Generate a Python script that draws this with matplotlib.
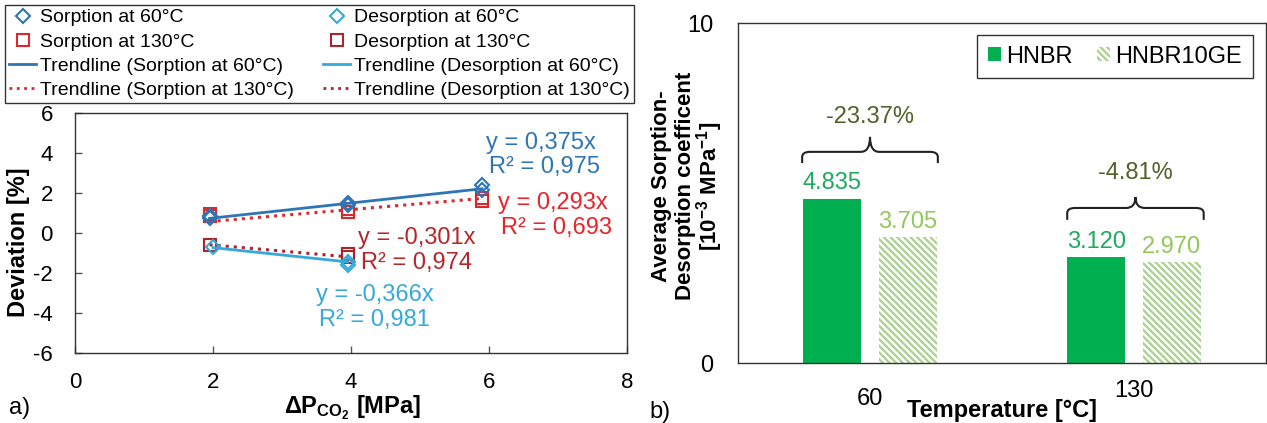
import matplotlib
matplotlib.use("Agg")
import matplotlib.pyplot as plt
from matplotlib.lines import Line2D
from matplotlib.patches import PathPatch
from matplotlib.path import Path
import numpy as np

plt.rcParams['font.family'] = ['Liberation Sans', 'DejaVu Sans']
plt.rcParams['mathtext.fontset'] = 'custom'
plt.rcParams['mathtext.rm'] = 'Liberation Sans'
plt.rcParams['mathtext.bf'] = 'Liberation Sans:bold'
plt.rcParams['mathtext.it'] = 'Liberation Sans:italic'
plt.rcParams['mathtext.default'] = 'bf'
plt.rcParams['hatch.linewidth'] = 1.6
plt.rcParams['axes.unicode_minus'] = False

# ---------------- data: panel a ----------------
x_s60 = [1.95, 1.95, 3.95, 3.95, 5.9, 5.9]
y_s60 = [0.75, 0.85, 1.4, 1.5, 2.15, 2.4]
x_d60 = [2.0, 3.95, 3.95]
y_d60 = [-0.7, -1.45, -1.6]
x_s130 = [1.95, 1.95, 3.95, 3.95, 5.9, 5.9]
y_s130 = [0.85, 0.95, 1.05, 1.2, 1.6, 1.75]
x_d130 = [1.95, 3.95, 3.95]
y_d130 = [-0.6, -1.05, -1.2]

slopes = [0.375, -0.366, 0.293, -0.301]      # S60, D60, S130, D130
r2 = [0.975, 0.981, 0.693, 0.974]

# ---------------- data: panel b ----------------
temps = ['60', '130']
hnbr = [4.835, 3.120]
hnbr10ge = [3.705, 2.970]

c_s60 = '#2e75b6'
c_d60 = '#35a8dc'
c_s130 = '#d62a2e'
c_d130 = '#a8262b'
c_s130_txt = '#e8232a'
c_d130_txt = '#b5262b'

fig = plt.figure(figsize=(12.67, 4.23), dpi=100)
W, H = 1267, 423

def fx(px):
    return px / W

def fy(py):
    return 1 - py / H

# ================= panel a =================
ax = fig.add_axes([fx(75), fy(353), fx(627) - fx(75), fy(113) - fy(353)])
ax.set_xlim(0, 8)
ax.set_ylim(-6, 6)
ax.set_xticks([0, 2, 4, 6, 8])
ax.set_yticks([-6, -4, -2, 0, 2, 4, 6])
ax.tick_params(direction='in', length=5, width=1, labelsize=16, color='#555555')
ax.tick_params(axis='x', pad=14)
ax.tick_params(axis='y', pad=16)
for sp in ax.spines.values():
    sp.set_linewidth(1.0)
    sp.set_color('#333333')

series = [
    (x_s60, y_s60, slopes[0], c_s60, 'D', '-', 'Sorption at 60°C', 'Trendline (Sorption at 60°C)', 6),
    (x_d60, y_d60, slopes[1], c_d60, 'D', '-', 'Desorption at 60°C', 'Trendline (Desorption at 60°C)', 5),
    (x_s130, y_s130, slopes[2], c_s130, 's', ':', 'Sorption at 130°C', 'Trendline (Sorption at 130°C)', 4),
    (x_d130, y_d130, slopes[3], c_d130, 's', ':', 'Desorption at 130°C', 'Trendline (Desorption at 130°C)', 4),
]
mk_handles = {}
ln_handles = {}
for xs, ys, s, c, m, ls, lab, tlab, z in series:
    xs = np.array(xs)
    xt = np.array([xs.min(), xs.max()])
    lw = 2.0 if ls == '-' else 2.2
    ax.plot(xt, s * xt, color=c, lw=lw, ls=ls, zorder=z)
    ms = 7 if m == 'D' else 8
    ax.plot(xs, ys, ls='none', marker=m, ms=ms, mfc='none', mec=c, mew=1.5, zorder=z + 0.5)
    mk_handles[lab] = Line2D([], [], ls='none', marker=m, ms=ms, mfc='none', mec=c, mew=1.5)
    ln_handles[tlab] = Line2D([], [], color=c, lw=2.0, ls=ls)

def eqtxt(s):
    return f"y = {s:.3f}x".replace('.', ',')

def r2txt(r):
    return f"R² = {r:.3f}".replace('.', ',')

ann = [
    (5.96, 4.5, 3.3, 0, c_s60),
    (3.5, -3.1, -4.35, 1, c_d60),
    (6.13, 1.5, 0.25, 2, c_s130_txt),
    (4.1, -0.25, -1.5, 3, c_d130_txt),
]
for xl, ye, yr, i, c in ann:
    ax.text(xl, ye, eqtxt(slopes[i]), color=c, fontsize=17, ha='left', va='center')
    ax.text(xl + 0.04, yr, r2txt(r2[i]), color=c, fontsize=17, ha='left', va='center')

ax.set_xlabel(r'$\Delta P_{CO_2}$ [MPa]', fontsize=17, fontweight='bold')
ax.xaxis.set_label_coords(0.502, -0.17)
ax.set_ylabel('Deviation [%]', fontsize=17, fontweight='bold')
ax.yaxis.set_label_coords(-0.082, 0.46)

order = ['Sorption at 60°C', 'Sorption at 130°C', 'Trendline (Sorption at 60°C)', 'Trendline (Sorption at 130°C)',
         'Desorption at 60°C', 'Desorption at 130°C', 'Trendline (Desorption at 60°C)', 'Trendline (Desorption at 130°C)']
allh = {**mk_handles, **ln_handles}
leg = fig.legend([allh[k] for k in order], order, loc='upper left', ncol=2,
                 bbox_to_anchor=(fx(5), fy(5)), borderaxespad=0, fontsize=14,
                 frameon=True, fancybox=False, edgecolor='#333333', framealpha=1,
                 handlelength=1.4, handletextpad=0.2, labelspacing=0.34,
                 columnspacing=1.5, borderpad=0.2)
leg.get_frame().set_linewidth(1.0)

fig.text(fx(20), fy(408), 'a)', fontsize=17, ha='center', va='center')

# ================= panel b =================
bx = fig.add_axes([fx(738), fy(363), fx(1266) - fx(738), fy(23) - fy(363)])
pos = np.arange(len(temps))
bw = 0.22
off = 0.143
bx.bar(pos - off, hnbr, bw, color='#00b050', label='HNBR', zorder=2)
bx.bar(pos + off, hnbr10ge, bw, facecolor='white', edgecolor='#a9d18e', hatch='\\\\\\\\\\',
       linewidth=0, label='HNBR10GE', zorder=2)
bx.set_xlim(-0.5, 1.5)
bx.set_ylim(0, 10)
bx.set_yticks([0, 10])
bx.set_xticks([])
bx.tick_params(axis='y', length=0, labelsize=17, pad=18)
for sp in bx.spines.values():
    sp.set_linewidth(1.0)
    sp.set_color('#333333')

for i in range(len(temps)):
    bx.text(pos[i] - off, hnbr[i] + 0.45, f"{hnbr[i]:.3f}", color='#1daa5e', fontsize=17,
            ha='center', va='center')
    bx.text(pos[i] + off, hnbr10ge[i] + 0.45, f"{hnbr10ge[i]:.3f}", color='#92c75a', fontsize=17,
            ha='center', va='center')

# category labels (staggered like the original)
cat_y = [-0.105, -0.083]
for i, t in enumerate(temps):
    bx.text(pos[i], cat_y[i], t, transform=bx.get_xaxis_transform(), fontsize=17,
            ha='center', va='center')

def brace(axx, x0, x1, yb, yl, ya):
    xc = (x0 + x1) / 2
    r = 0.03
    d = 0.035
    verts = [(x0, yb), (x0, yl - 0.15), (x0, yl), (x0 + r, yl),
             (xc - d, yl), (xc, yl), (xc, ya),
             (xc, ya), (xc, yl), (xc + d, yl),
             (x1 - r, yl), (x1, yl), (x1, yl - 0.15), (x1, yb)]
    codes = [Path.MOVETO, Path.LINETO, Path.CURVE3, Path.CURVE3,
             Path.LINETO, Path.CURVE3, Path.CURVE3,
             Path.MOVETO, Path.CURVE3, Path.CURVE3,
             Path.LINETO, Path.CURVE3, Path.CURVE3, Path.LINETO]
    axx.add_patch(PathPatch(Path(verts, codes), facecolor='none', edgecolor='#222222', lw=1.5, zorder=3))

brace_geo = [(-0.257, 0.257, 5.88, 6.21, 6.65, 7.24), (0.747, 1.264, 4.21, 4.56, 4.88, 5.59)]
for i, (x0, x1, yb, yl, ya, yt) in enumerate(brace_geo):
    brace(bx, x0, x1, yb, yl, ya)
    pct = (hnbr10ge[i] - hnbr[i]) / hnbr[i] * 100
    bx.text((x0 + x1) / 2, yt, f"{pct:.2f}%", color='#4f6228', fontsize=17, ha='center', va='center')

bx.set_xlabel('Temperature [°C]', fontsize=17, fontweight='bold')
bx.xaxis.set_label_coords(0.5, -0.105)

ylab_lines = ['Average Sorption-', 'Desorption coefficent', '[10$^{-3}$ MPa$^{-1}$]']
ylab_x = [662, 686, 710]
for t, xp in zip(ylab_lines, ylab_x):
    fig.text(fx(xp), fy(186), t, rotation=90, fontsize=16, fontweight='bold',
             ha='center', va='center')

lg2 = bx.legend(loc='upper right', bbox_to_anchor=(0.975, 0.965), ncol=2, fontsize=17,
                frameon=True, fancybox=False, edgecolor='#333333', framealpha=1,
                handlelength=0.55, handleheight=0.55, handletextpad=0.25, columnspacing=1.0,
                borderpad=0.45, borderaxespad=0)
lg2.get_frame().set_linewidth(1.0)

fig.text(fx(660), fy(412), 'b)', fontsize=17, ha='center', va='center')

fig.savefig('out.png', dpi=100)
